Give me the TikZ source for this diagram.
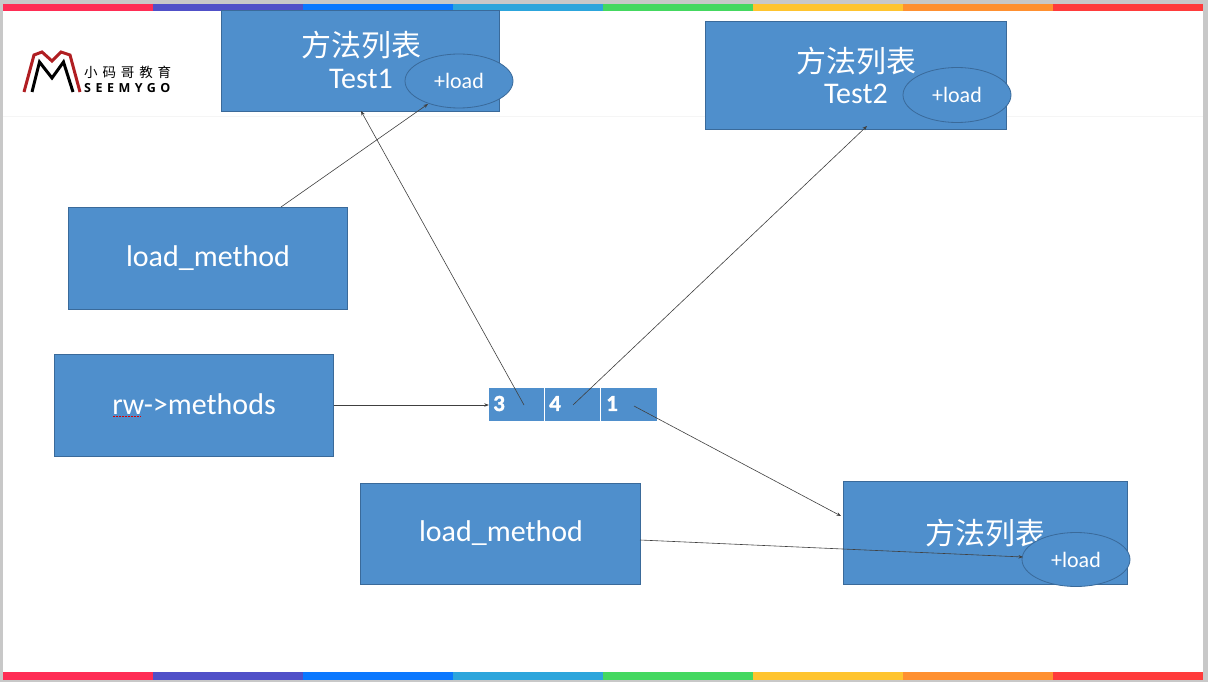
\documentclass[tikz,border=0pt]{standalone}
\usepackage{fontspec}
\setmainfont{Carlito}
\newfontfamily\cjk{Noto Sans CJK SC}
\newfontfamily\cjkspaced[LetterSpace=36]{Noto Sans CJK SC}
\newfontfamily\logolat[LetterSpace=36]{Open Sans}
\newfontfamily\digitfont[BoldFeatures={FakeBold=1.5}]{Carlito}
\usetikzlibrary{shapes.geometric,arrows.meta}
\definecolor{boxfill}{HTML}{4F8FCC}
\definecolor{boxline}{HTML}{3A6A9A}
\definecolor{pageedge}{HTML}{C8C8C8}
\definecolor{barA}{HTML}{FF2D55}
\definecolor{barB}{HTML}{5050C8}
\definecolor{barC}{HTML}{0A78FF}
\definecolor{barD}{HTML}{2CA5DC}
\definecolor{barE}{HTML}{44D860}
\definecolor{barF}{HTML}{FFC42E}
\definecolor{barG}{HTML}{FF9030}
\definecolor{barH}{HTML}{FF3B3B}
\definecolor{logored}{HTML}{B01E22}
\tikzset{
  bluebox/.style={draw=boxline,line width=0.8pt,fill=boxfill,text=white,inner sep=0pt,align=center,font=\fontsize{30}{34}\selectfont},
  oval/.style={ellipse,draw=boxline,line width=0.8pt,fill=boxfill,text=white,inner sep=0pt,font=\fontsize{22}{26}\selectfont},
  cell/.style={fill=boxfill,text=white,inner sep=0pt,minimum height=33},
  digit/.style={anchor=west,inner sep=0pt,text=white,font=\fontsize{23}{26}\digitfont\bfseries},
  heading/.style={font=\fontsize{30}{32}\cjk,text=white,inner sep=0pt},
  sublabel/.style={font=\fontsize{30}{32}\selectfont,text=white,inner sep=0pt},
  conn/.style={draw=black!75,line width=0.6pt,-{Stealth[length=4.5pt,width=3.5pt]}}
}
\begin{document}
\begin{tikzpicture}[x=1pt,y=-1pt]
\useasboundingbox (0,0) rectangle (1208,682);
% page
\fill[pageedge] (0,0) rectangle (1208,682);
\fill[white] (3,4) rectangle (1203,680);
\fill[black!4] (3,116.5) rectangle (1203,117.5);
% rainbow bars
\foreach \yy/\yb in {4/11,672/680}{
  \fill[barA] (3,\yy) rectangle (153,\yb);
  \fill[barB] (153,\yy) rectangle (303,\yb);
  \fill[barC] (303,\yy) rectangle (453,\yb);
  \fill[barD] (453,\yy) rectangle (603,\yb);
  \fill[barE] (603,\yy) rectangle (753,\yb);
  \fill[barF] (753,\yy) rectangle (903,\yb);
  \fill[barG] (903,\yy) rectangle (1053,\yb);
  \fill[barH] (1053,\yy) rectangle (1203,\yb);
}
% logo
\draw[logored,line width=3pt,line join=miter] (24,92) -- (34,55) -- (42,52) -- (52,61) -- (61,52) -- (70,55) -- (80,92);
\draw[black,line width=3pt,line join=miter] (32,92) -- (39.5,62) -- (52,78) -- (63.5,62) -- (73,92);
\node[anchor=west,inner sep=0pt,font=\fontsize{13.5}{15}\cjkspaced] (logocn) at (84,72) {小码哥教育};
\node[anchor=west,inner sep=0pt,font=\fontsize{12.5}{14}\logolat\bfseries] (logoen) at (84,88.5) {SEEMYGO};
% boxes
\node[bluebox,minimum width=278.5,minimum height=101] (t1) at (360.5,60.5) {};
\node[heading] (t1a) at (361,45) {方法列表};
\node[sublabel] (t1b) at (361,79) {Test1};
\node[oval,minimum width=108,minimum height=54] (e1) at (459,81) {+load};

\node[bluebox,minimum width=301.5,minimum height=108] (t2) at (856,75) {};
\node[heading] (t2a) at (856,61) {方法列表};
\node[sublabel] (t2b) at (856,94) {Test2};
\node[oval,minimum width=108,minimum height=55] (e2) at (957,95) {+load};

\node[bluebox,minimum width=279.5,minimum height=102] (load1) at (208,258) {load\_method};
\node[bluebox,minimum width=279.5,minimum height=102] (rw) at (194,405) {\raisebox{1.5pt}{rw->methods}};
\node[bluebox,minimum width=280,minimum height=101] (load2) at (500,533.5) {\hspace{2pt}load\_method};

\node[bluebox,minimum width=284.5,minimum height=103] (t3) at (985.5,532.5) {};
\node[heading] (t3a) at (985,533) {方法列表};
\node[oval,minimum width=108,minimum height=54] (e3) at (1076,559.5) {+load};

% spell-check squiggle
\draw[red!85!black,line width=1pt,dash pattern=on 1.5pt off 1.5pt] (113,416) -- (141,416);

% array cells
\node[cell,minimum width=55] (c3) at (516.5,404.5) {};
\node[cell,minimum width=55] (c4) at (572.5,404.5) {};
\node[cell,minimum width=56] (c1) at (629,404.5) {};
\node[digit] (n3) at (493,403.5) {3};
\node[digit] (n4) at (549,403.5) {4};
\node[digit] (n1) at (606,403.5) {1};

% connector ends
\coordinate (s3) at (524,405);
\coordinate (s4) at (573,405);
\coordinate (s1) at (634,406);
\coordinate (a1) at (361,111);
\coordinate (a2) at (867,126);
\coordinate (a3) at (841,516);
\coordinate (a4) at (428,104);
\coordinate (a5) at (1023,557);
\coordinate (b1) at (281,207);
\coordinate (b2) at (640,540);

\draw[conn] (b1) -- (a4);
\draw[conn] (s3) -- (a1);
\draw[conn] (s4) -- (a2);
\draw[conn] (s1) -- (a3);
\draw[conn] (rw.east) -- (rw.east -| c3.west);
\draw[conn] (b2) -- (a5);
\end{tikzpicture}
\end{document}
